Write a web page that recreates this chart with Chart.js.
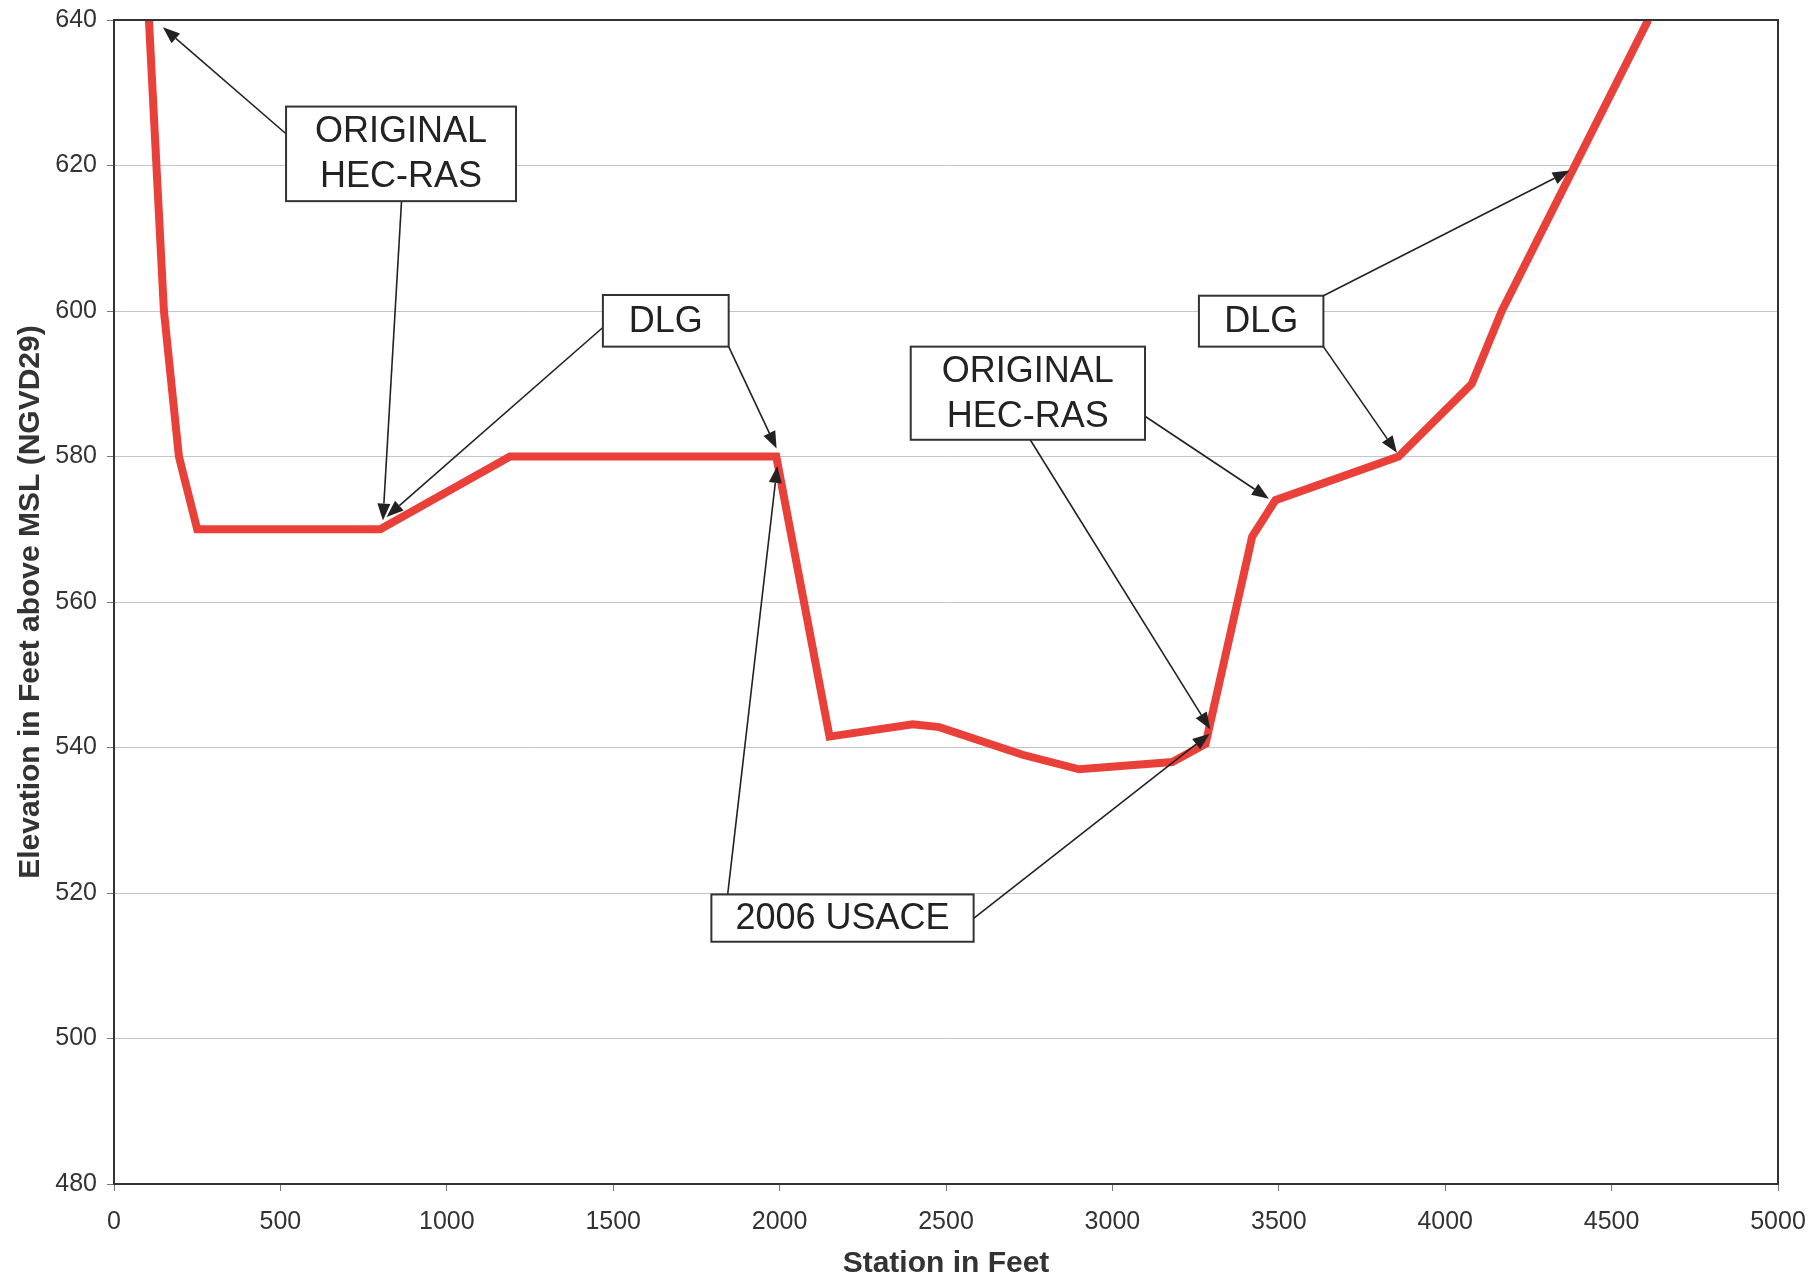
<!DOCTYPE html>
<html>
<head>
<meta charset="utf-8">
<script src="https://cdn.jsdelivr.net/npm/chart.js@4/dist/chart.umd.min.js"></script>
<style>
  html, body { margin: 0; padding: 0; background: #ffffff; }
  #wrap { width: 1811px; height: 1275px; position: relative; }
</style>
</head>
<body>
<div id="wrap"><canvas id="c" width="1811" height="1275"></canvas></div>
<script>
// ---- data ----
const stations   = [105, 150, 195, 250, 800, 1190, 1990, 2150, 2400, 2480, 2730, 2900, 3180, 3280, 3420, 3490, 3860, 4080, 4170, 4610];
const elevations = [640, 600, 580, 570, 570, 580, 580, 541.5, 543.2, 542.8, 539, 537, 538, 540.5, 569, 574, 580, 590, 600, 640];
const xTicks = [0, 500, 1000, 1500, 2000, 2500, 3000, 3500, 4000, 4500, 5000];
const yTicks = [480, 500, 520, 540, 560, 580, 600, 620, 640];
const xTitle = 'Station in Feet';
const yTitle = 'Elevation in Feet above MSL (NGVD29)';

// annotation labels
const labelTexts = [['ORIGINAL', 'HEC-RAS'], ['DLG'], ['2006 USACE'], ['ORIGINAL', 'HEC-RAS'], ['DLG']];
// annotation boxes in data units: [xMin, xMax, yTop, yBottom]
const labelBoxes = [
  [517, 1208, 628.1, 615.1],
  [1469, 1847, 602.2, 595.1],
  [1795, 2583, 519.8, 513.3],
  [2394, 3098, 595.1, 582.3],
  [3260, 3634, 602.1, 595.1]
];
// arrows in data units: [fromX, fromY, toX, toY]
const labelArrows = [
  [516, 624.4, 147, 639],
  [864, 615.1, 808, 571.2],
  [1468, 597.7, 819, 571.7],
  [1847, 595.1, 1991, 581.1],
  [1844, 519.8, 1993, 578.7],
  [2583, 516.5, 3292, 541.9],
  [2753, 582.3, 3294, 542.5],
  [3099, 585.5, 3470, 574.2],
  [3634, 602.1, 4374, 619.3],
  [3634, 595.1, 3855, 580.5]
];

const FONT = '"Liberation Sans", Arial, Helvetica, sans-serif';

const framePlugin = {
  id: 'frame',
  afterDatasetsDraw(chart) {
    const {ctx, chartArea: a} = chart;
    ctx.save();
    ctx.strokeStyle = '#333333';
    ctx.lineWidth = 2;
    ctx.strokeRect(a.left, a.top, a.right - a.left, a.bottom - a.top);
    ctx.restore();
  }
};

const annotationPlugin = {
  id: 'callouts',
  afterDatasetsDraw(chart) {
    const {ctx} = chart;
    const xs = chart.scales.x, ys = chart.scales.y;
    ctx.save();
    ctx.strokeStyle = '#222222';
    ctx.fillStyle = '#222222';
    ctx.lineWidth = 1.6;
    labelArrows.forEach(([fx, fy, tx, ty]) => {
      const x1 = xs.getPixelForValue(fx), y1 = ys.getPixelForValue(fy);
      const x2 = xs.getPixelForValue(tx), y2 = ys.getPixelForValue(ty);
      const ang = Math.atan2(y2 - y1, x2 - x1);
      const hl = 17, hw = 6.5;
      const bx = x2 - hl * Math.cos(ang), by = y2 - hl * Math.sin(ang);
      ctx.beginPath();
      ctx.moveTo(x1, y1);
      ctx.lineTo(bx, by);
      ctx.stroke();
      ctx.beginPath();
      ctx.moveTo(x2, y2);
      ctx.lineTo(bx + hw * Math.sin(ang), by - hw * Math.cos(ang));
      ctx.lineTo(bx - hw * Math.sin(ang), by + hw * Math.cos(ang));
      ctx.closePath();
      ctx.fill();
    });
    labelBoxes.forEach((b, i) => {
      const l = xs.getPixelForValue(b[0]), r = xs.getPixelForValue(b[1]);
      const t = ys.getPixelForValue(b[2]), bt = ys.getPixelForValue(b[3]);
      ctx.fillStyle = '#ffffff';
      ctx.fillRect(l, t, r - l, bt - t);
      ctx.strokeStyle = '#333333';
      ctx.lineWidth = 2;
      ctx.strokeRect(l, t, r - l, bt - t);
      const lines = labelTexts[i];
      ctx.fillStyle = '#222222';
      ctx.font = '36px ' + FONT;
      ctx.textAlign = 'center';
      ctx.textBaseline = 'middle';
      const lh = 45;
      const cx = (l + r) / 2, cy = (t + bt) / 2;
      lines.forEach((s, k) => {
        ctx.fillText(s, cx, cy + (k - (lines.length - 1) / 2) * lh + 1);
      });
    });
    ctx.restore();
  }
};

function zeroPad(s) {
  s.paddingTop = 0; s.paddingBottom = 0; s.paddingLeft = 0; s.paddingRight = 0;
}

new Chart(document.getElementById('c'), {
  type: 'line',
  data: {
    datasets: [{
      data: stations.map((s, i) => ({x: s, y: elevations[i]})),
      borderColor: '#e9403a',
      borderWidth: 8,
      pointRadius: 0,
      tension: 0,
      fill: false,
      borderJoinStyle: 'miter'
    }]
  },
  options: {
    responsive: false,
    animation: false,
    devicePixelRatio: 1,
    layout: { padding: { top: 20, right: 33, left: 0, bottom: 0 } },
    plugins: { legend: { display: false }, tooltip: { enabled: false } },
    scales: {
      x: {
        type: 'linear',
        min: 0, max: 5000,
        afterBuildTicks: s => { s.ticks = xTicks.map(v => ({value: v})); },
        afterFit: s => { s.height = 91; zeroPad(s); },
        grid: { drawOnChartArea: false, drawTicks: true, tickLength: 7, tickColor: '#777777' },
        border: { display: true, color: '#333333', width: 2 },
        ticks: { color: '#333333', font: { family: FONT, size: 25 }, padding: 16, maxRotation: 0, autoSkip: false, callback: v => String(v) },
        title: { display: true, text: xTitle, color: '#333333', font: { family: FONT, size: 30, weight: 'bold', lineHeight: 0.75 }, padding: { top: 0, bottom: 0 } }
      },
      y: {
        type: 'linear',
        min: 480, max: 640,
        afterBuildTicks: s => { s.ticks = yTicks.map(v => ({value: v})); },
        afterFit: s => { s.width = 114; zeroPad(s); },
        grid: { color: '#c4c4cc', lineWidth: 1, drawTicks: true, tickLength: 7, tickColor: '#777777' },
        border: { display: true, color: '#333333', width: 2 },
        ticks: { color: '#333333', font: { family: FONT, size: 25 }, padding: 10, autoSkip: false, callback: v => String(v) },
        title: { display: true, text: yTitle, color: '#333333', font: { family: FONT, size: 30, weight: 'bold', lineHeight: 1 }, padding: { top: 16, bottom: 0 } }
      }
    }
  },
  plugins: [framePlugin, annotationPlugin]
});
</script>
</body>
</html>
